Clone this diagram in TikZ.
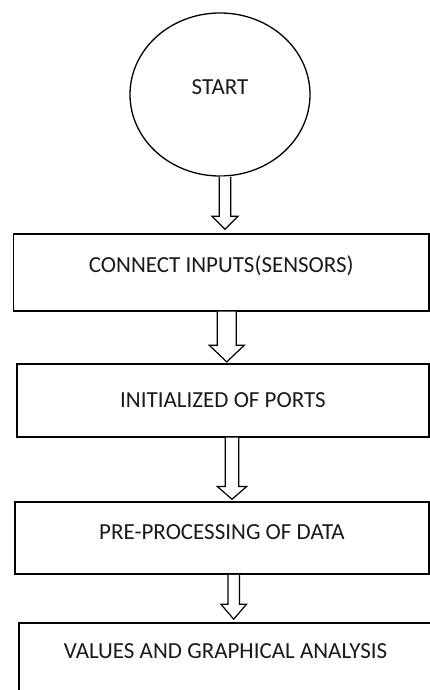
\documentclass[tikz,border=0pt]{standalone}
\usepackage{fontspec}
\setmainfont{Carlito}
\usetikzlibrary{shapes.geometric,calc}
\definecolor{ink}{HTML}{1A1A1A}
\tikzset{
  txt/.style={font=\fontsize{23}{27}\selectfont, text=ink, inner sep=0pt, text height=14.5pt},
  startnode/.style={txt, ellipse, draw=black, line width=1.3pt, minimum width=180pt, minimum height=163pt},
  stepbox/.style={txt, rectangle, draw=black, line width=1.6pt},
  arrowline/.style={draw=black, line width=1.2pt, fill=white, line join=miter},
}
% #1 start point, #2 end node anchor (tip y), #3 half shaft, #4 half head, #5 head length, #6 gap above target
\newcommand\hollowarrow[6]{%
  \draw[arrowline] let \p1=(#1), \p2=(#2) in
    (\x1-#3,\y1) -- (\x1-#3,\y2+#6+#5) -- (\x1-#4,\y2+#6+#5) -- (\x1,\y2+#6)
    -- (\x1+#4,\y2+#6+#5) -- (\x1+#3,\y2+#6+#5) -- (\x1+#3,\y1);}
\begin{document}
\begin{tikzpicture}[x=1pt,y=-1pt]
\useasboundingbox (0,0) rectangle (430,690);
\clip (0,0) rectangle (430,690);
\fill[white] (0,0) rectangle (430,690);

\node[startnode, text depth=14pt] (start) at (220,94.5) {START};
\node[stepbox, minimum width=415.5pt, minimum height=76.7pt, text depth=14.7pt] (b1) at (221.25,272.35) {CONNECT INPUTS(SENSORS)};
\node[stepbox, minimum width=412pt, minimum height=72.7pt, text depth=0pt] (b2) at (223,400.35) {INITIALIZED OF PORTS};
\node[stepbox, minimum width=414pt, minimum height=72.3pt, text depth=11.7pt] (b3) at (222,537.85) {PRE-PROCESSING OF DATA};
\node[stepbox, minimum width=413pt, minimum height=77.3pt, text depth=20.7pt] (b4) at (225.5,661.35) {VALUES AND GRAPHICAL ANALYSIS};

\hollowarrow{[xshift=5pt]start.south}{b1.north}{5.8pt}{13pt}{13pt}{4pt}
\hollowarrow{[xshift=5.5pt]b1.south}{b2.north}{9.5pt}{17.5pt}{16.7pt}{1.3pt}
\hollowarrow{[xshift=9pt]b2.south}{b3.north}{6.7pt}{14.7pt}{12.7pt}{1.7pt}
\hollowarrow{[xshift=11.7pt]b3.south}{b4.north}{5.7pt}{12.8pt}{15pt}{2.7pt}
\end{tikzpicture}
\end{document}
